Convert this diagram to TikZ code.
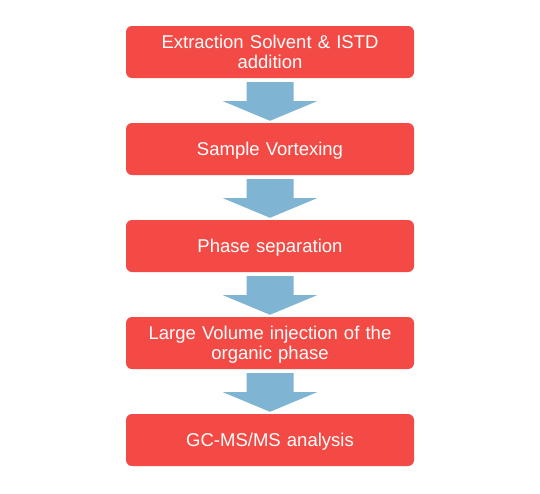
\documentclass[tikz,border=0pt]{standalone}
\usepackage{fontspec}
\setmainfont{Liberation Sans}
\usetikzlibrary{calc}

\definecolor{boxred}{HTML}{F34A45}
\definecolor{arrowblue}{HTML}{7FB4D2}

\tikzset{
  stepbox/.style={fill=boxred, rounded corners=6pt, minimum width=288pt,
    minimum height=52pt, text width=280pt, align=center, text=white,
    font=\fontsize{18.5}{20}\selectfont, inner sep=0pt,
    text height=13pt, text depth=0pt},
  twoline/.style={text depth=20pt},
  flowarrow/.style={fill=arrowblue, draw=none}
}

\begin{document}
\begin{tikzpicture}[x=1pt,y=-1pt]
  \useasboundingbox (0,0) rectangle (540,493);
  \node[stepbox,twoline] (S1) at (270,52)  {Extraction Solvent \& ISTD\\addition};
  \node[stepbox] (S2) at (270,149) {Sample Vortexing};
  \node[stepbox] (S3) at (270,246) {Phase separation};
  \node[stepbox,twoline] (S4) at (270,343) {Large Volume injection of the\\organic phase};
  \node[stepbox] (S5) at (270,440) {GC-MS/MS analysis};
  \foreach \a/\b in {S1/S2,S2/S3,S3/S4,S4/S5}
    \fill[flowarrow] ($(\a.south)+(-23.5,4)$) -- ($(\a.south)+(23.5,4)$)
      -- ($(\a.south)+(23.5,23)$) -- ($(\a.south)+(47,23)$)
      -- ($(\b.north)+(0,-2)$)
      -- ($(\a.south)+(-47,23)$) -- ($(\a.south)+(-23.5,23)$) -- cycle;
\end{tikzpicture}
\end{document}
